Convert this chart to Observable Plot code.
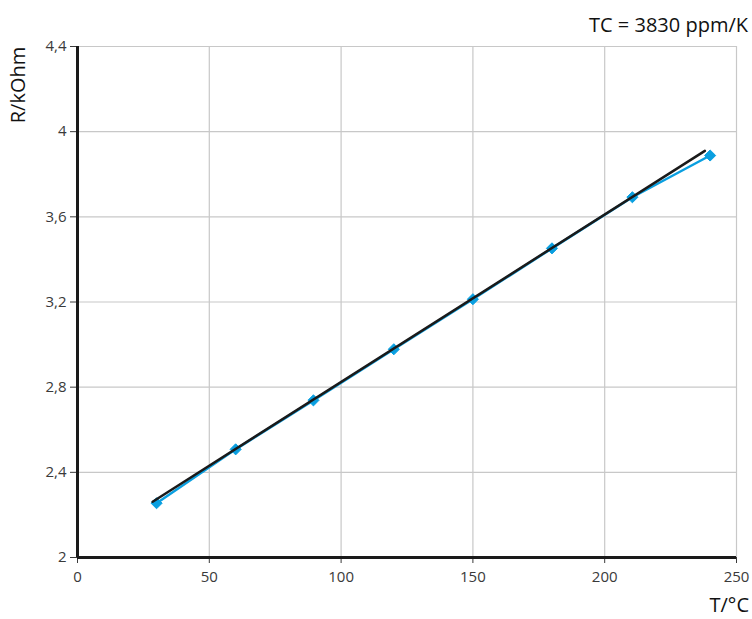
<!DOCTYPE html>
<html>
<head>
<meta charset="utf-8">
<script src="https://cdn.jsdelivr.net/npm/d3@7"></script>
<script src="https://cdn.jsdelivr.net/npm/@observablehq/plot@0.6"></script>
<style>
  html, body { margin: 0; padding: 0; background: #fff; }
  #chart { position: relative; width: 752px; height: 619px; font-family: "Open Sans", "Noto Sans", sans-serif; }
</style>
</head>
<body>
<div id="chart"></div>
<script>
// Measured data
const temps = [30, 60, 89.5, 120, 150, 180, 210.5, 240];
const resist = [2.255, 2.508, 2.738, 2.978, 3.213, 3.452, 3.692, 3.888];
// Linear fit line endpoints
const fitT = [28.5, 238];
const fitR = [2.262, 3.91];
const xTicks = [0, 50, 100, 150, 200, 250];
const yTicks = [2, 2.4, 2.8, 3.2, 3.6, 4, 4.4];
const title = "TC = 3830 ppm/K";
const xLabel = "T/°C";
const yLabel = "R/kOhm";

const points = temps.map((t, i) => ({t, r: resist[i]}));
const fit = fitT.map((t, i) => ({t, r: fitR[i]}));
const fmt = d => String(d).replace(".", ",");

const plot = Plot.plot({
  width: 752,
  height: 619,
  marginLeft: 77,
  marginRight: 16,
  marginTop: 46,
  marginBottom: 62,
  style: {fontFamily: "'Open Sans', 'Noto Sans', sans-serif", fontSize: "15px", color: "#3a3a3a", background: "#fff"},
  x: {domain: [0, 250], ticks: xTicks, tickFormat: fmt, label: null},
  y: {domain: [2, 4.4], ticks: yTicks, tickFormat: fmt, label: null},
  marks: [
    Plot.gridX(xTicks.filter(d => d > 0), {stroke: "#c8c8c8", strokeOpacity: 1, strokeWidth: 1.2}),
    Plot.gridY(yTicks.filter(d => d > 2), {stroke: "#c8c8c8", strokeOpacity: 1, strokeWidth: 1.2}),
    Plot.axisX({ticks: xTicks, tickFormat: fmt, tickSize: 6, tickPadding: 8, stroke: "#3a3a3a", fill: "#3a3a3a", fontSize: 15, label: null}),
    Plot.axisY({ticks: yTicks, tickFormat: fmt, tickSize: 7, tickPadding: 4, stroke: "#3a3a3a", fill: "#3a3a3a", fontSize: 15, label: null}),
    Plot.ruleX([0], {stroke: "#1a1a1a", strokeWidth: 3}),
    Plot.ruleY([2], {stroke: "#1a1a1a", strokeWidth: 3}),
    Plot.line(points, {x: "t", y: "r", stroke: "#0a9fe0", strokeWidth: 2.5}),
    Plot.dot(points, {x: "t", y: "r", symbol: "diamond2", r: 5, fill: "#0a9fe0", stroke: "#0a9fe0", strokeWidth: 1}),
    Plot.line(fit, {x: "t", y: "r", stroke: "#1a1a1a", strokeWidth: 2.5}),
  ]
});

const chart = document.getElementById("chart");
chart.appendChild(plot);

// Overlay labels
const svg = d3.select(plot);
svg.append("text").text(title)
  .attr("x", 748).attr("y", 32).attr("text-anchor", "end")
  .attr("font-size", 20).attr("fill", "#111");
svg.append("text").text(xLabel)
  .attr("x", 749).attr("y", 612).attr("text-anchor", "end")
  .attr("font-size", 20).attr("fill", "#111");
svg.append("text").text(yLabel)
  .attr("transform", "translate(25,85) rotate(-90)").attr("text-anchor", "middle")
  .attr("font-size", 20).attr("fill", "#111");
</script>
</body>
</html>
